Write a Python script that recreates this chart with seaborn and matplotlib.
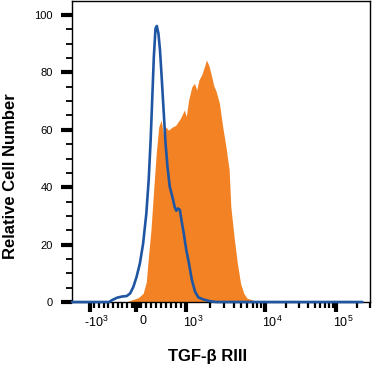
import numpy as np
import pandas as pd
import matplotlib
matplotlib.use("Agg")
import matplotlib.pyplot as plt
import matplotlib.transforms as mtrans
import seaborn as sns

# ---- data (channel positions on the display scale, relative cell number) ----
iso_channel = [0, 38, 41.3, 46.3, 51.3, 56.3, 59.7, 63, 66.3, 69.7, 73, 76.3, 78.7, 80.7,
               82.3, 84, 85.7, 87, 88.7, 90.3, 92, 94, 96, 98, 100.3, 103, 105.3, 107,
               108.7, 110.7, 112.3, 114.7, 117.3, 120, 123, 126.3, 129.7, 134.7, 141.3, 148, 298]
iso_count = [0, 0, 0.7, 1.5, 1.9, 2.1, 3.0, 5.3, 8.8, 13.5, 20.4, 30.9, 42.5, 56.4,
             70.4, 85.5, 95.3, 96.2, 93.6, 87.8, 78.5, 66.9, 55.3, 47.1, 40.2, 36.7, 33.2, 31.8,
             32.6, 32.1, 28.6, 23.9, 18.1, 13.5, 7.7, 3.6, 1.6, 0.9, 0.3, 0, 0]

tgf_channel = [0, 55, 62, 68, 73, 76.3, 78, 81, 84, 86.5, 89, 91.5, 94, 96.3, 99, 103, 106.3,
               111.3, 115.3, 117.3, 119.7, 123, 125.7, 128, 130.3, 133, 135.3, 138, 140.3,
               143, 145.3, 148, 151.3, 154.7, 158, 161.3, 163, 166.3, 169.7, 173, 176.3,
               179.7, 184.7, 188, 194.7, 200, 298]
tgf_count = [0, 0, 0.8, 1.5, 3.0, 7.0, 14.0, 25.0, 40.0, 52.0, 61.0, 63.4, 58.2, 61.0,
             59.9, 61.0, 61.5, 64.0, 66.9, 64.6, 70.4, 75.0, 76.2, 73.9, 77.4, 79.1, 81.4,
             84.3, 82.6, 79.1, 75.6, 73.3, 69.2, 61.0, 54.1, 46.0, 33.2, 22.8, 13.5, 6.5,
             3.0, 1.3, 0.8, 0.3, 0.1, 0, 0]

major_tick_channel = [18, 66, 117, 198, 271]
major_tick_labels = [r"-10$^{3}$", r"0", r"10$^{3}$", r"10$^{4}$", r"10$^{5}$"]

# ---- style ----
sns.set_style("ticks")
plt.rcParams["font.family"] = ["Liberation Sans", "DejaVu Sans"]
plt.rcParams["mathtext.fontset"] = "custom"
plt.rcParams["mathtext.rm"] = "Liberation Sans"
plt.rcParams["mathtext.it"] = "Liberation Sans"
plt.rcParams["mathtext.bf"] = "Liberation Sans:bold"
for k in ["text.color", "axes.labelcolor", "xtick.color", "ytick.color", "axes.edgecolor"]:
    plt.rcParams[k] = "black"

fig = plt.figure(figsize=(3.72, 3.73), dpi=100)
ax = fig.add_axes([72 / 372, 1 - 302 / 373, 298 / 372, 301 / 373])

orange = "#F28224"
blue = "#1F56A3"

df_tgf = pd.DataFrame({"channel": tgf_channel, "count": tgf_count})
df_iso = pd.DataFrame({"channel": iso_channel, "count": iso_count})

ax.fill_between(df_tgf["channel"], 0, df_tgf["count"], color=orange, linewidth=0, zorder=2)
sns.lineplot(data=df_iso, x="channel", y="count", color=blue, linewidth=1.9, ax=ax,
             zorder=3, sort=False, clip_on=False)

ax.set_xlim(0, 298)
ax.set_ylim(0, 104.9)

# y ticks
ax.set_yticks([0, 20, 40, 60, 80, 100])
ax.set_yticks(np.arange(5, 105, 5), minor=True)
ax.tick_params(axis="y", which="major", length=8, width=3, direction="out",
               labelsize=8, pad=6, color="black", labelcolor="black")
ax.tick_params(axis="y", which="minor", length=4, width=1.3, direction="out", color="black")

# x ticks
ax.set_xticks(major_tick_channel)
ax.set_xticklabels(major_tick_labels)
minor = []
minor += [66 - 48 * k / 10 for k in range(1, 10)]
minor += [66 + 51 * k / 10 for k in range(1, 10)]
minor += [64.5, 67.5, 63, 69]
minor += [117 + 81 * np.log10(k) for k in range(2, 10)]
minor += [198 + 73 * np.log10(k) for k in range(2, 10)]
minor += [271 + 73 * np.log10(k) for k in range(2, 4)]
ax.set_xticks(minor, minor=True)
ax.tick_params(axis="x", which="major", length=7, width=3, direction="out",
               labelsize=9, pad=2, color="black", labelcolor="black")
ax.tick_params(axis="x", which="minor", length=4, width=1.6, direction="out", color="black")
shift = mtrans.ScaledTranslation(7 / 100, 0, fig.dpi_scale_trans)
for lbl in ax.get_xticklabels():
    lbl.set_transform(lbl.get_transform() + shift)

for s in ax.spines.values():
    s.set_linewidth(1.0)
    s.set_color("black")
    s.set_visible(True)

ax.set_xlabel("TGF-β RIII", fontsize=12, fontweight="bold", color="black")
ax.set_ylabel("Relative Cell Number", fontsize=12, fontweight="bold", color="black")
ax.xaxis.set_label_coords((208 - 72) / 298, (302 - 357) / 301)
ax.xaxis.label.set_va("center")
ax.yaxis.set_label_coords((11 - 72) / 298, (302 - 176) / 301)
ax.yaxis.label.set_va("center")

fig.savefig("out.png", dpi=100)
